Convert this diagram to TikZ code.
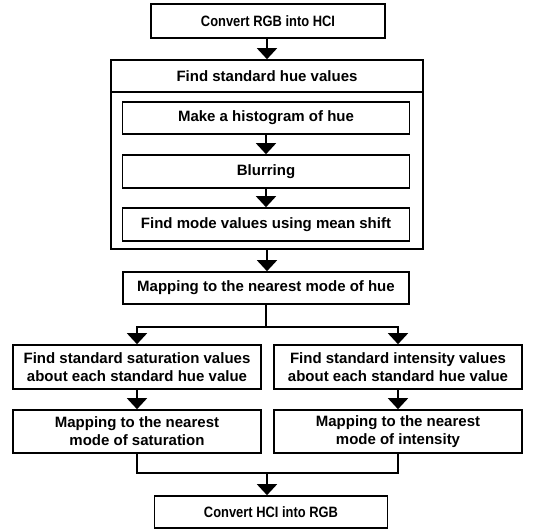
\documentclass[tikz,border=0pt]{standalone}
\usepackage{fontspec}
\setmainfont{Liberation Sans}
\newfontfamily\condfont[FakeStretch=0.86]{Liberation Sans}
\usetikzlibrary{arrows.meta}
\begin{document}
\begin{tikzpicture}[x=1pt,y=-1pt,
  box/.style={draw, line width=1.6pt, rectangle, inner sep=2pt, align=center,
    font=\fontsize{15}{18}\selectfont\bfseries},
  convbox/.style={box, font=\fontsize{15}{18}\selectfont\condfont\bfseries},
  arr/.style={line width=1.6pt, -{Triangle[width=20pt,length=11pt]}},
  ln/.style={line width=1.6pt}]
\useasboundingbox (0,0) rectangle (541,530);
\fill[white] (0,0) rectangle (541,530);

\node[convbox, minimum width=234pt, minimum height=34pt] (conv1) at (268,21) {Convert RGB into HCI};
\node[draw, line width=1.6pt, minimum width=312pt, minimum height=189pt] (outer) at (267,154.5) {};
\node[font=\fontsize{15}{18}\selectfont\bfseries] (head) at (267,76) {Find standard hue values};
\draw[ln] (outer.west |- 0,92) coordinate (hl) -- (outer.east |- 0,92) coordinate (hr);

\node[box, minimum width=287pt, minimum height=32pt] (hist) at (266,118) {Make a histogram of hue};
\node[box, minimum width=287pt, minimum height=33pt] (blur) at (266,171.5) {Blurring};
\node[box, minimum width=287pt, minimum height=33pt] (mode) at (266,224.5) {Find mode values using mean shift};
\node[box, minimum width=286pt, minimum height=32pt] (maph) at (266,288) {Mapping to the nearest mode of hue};

\node[box, minimum width=248pt, minimum height=44pt] (fsat) at (137,367) {Find standard saturation values\\about each standard hue value};
\node[box, minimum width=248pt, minimum height=44pt] (fint) at (398,367) {Find standard intensity values\\about each standard hue value};
\node[box, minimum width=248pt, minimum height=43pt] (msat) at (137,431.5) {Mapping to the nearest\\mode of saturation};
\node[box, minimum width=248pt, minimum height=43pt] (mint) at (398,431.5) {Mapping to the nearest\\mode of intensity};
\node[convbox, minimum width=233pt, minimum height=32pt] (conv2) at (271,512) {Convert HCI into RGB};

\draw[arr] (conv1.south -| outer.north) -- (outer.north);
\draw[arr] (hist.south) -- (blur.north);
\draw[arr] (blur.south) -- (mode.north);
\draw[arr] (outer.south) -- (outer.south |- maph.north);

\coordinate (split) at (266,327);
\draw[ln] (maph.south) -- (split);
\draw[arr] (split) -| (fsat.north);
\draw[arr] (split) -| (fint.north);
\draw[arr] (fsat.south) -- (msat.north);
\draw[arr] (fint.south) -- (mint.north);

\coordinate (merge) at (267,473);
\draw[ln] (msat.south) |- (merge) -| (mint.south);
\draw[arr] (merge) -- (merge |- conv2.north);
\end{tikzpicture}
\end{document}
